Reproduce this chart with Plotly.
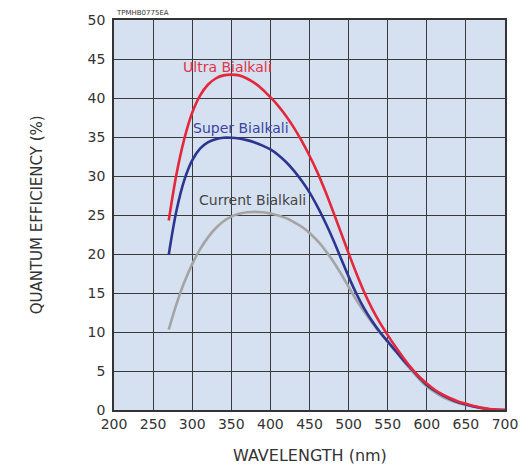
import plotly.graph_objects as go

# Wavelength (nm), every 10 nm from 270 to 700
wavelength = list(range(270, 701, 10))

# Quantum efficiency (%)
qe_ultra = [24.3, 30.3, 34.8, 38.1, 40.3, 41.7, 42.5, 42.9, 43.0, 42.9, 42.5, 41.9, 41.1, 40.1,
            39.0, 37.7, 36.2, 34.5, 32.6, 30.5, 28.1, 25.5, 22.8, 20.1,
            17.5, 15.1, 13.0, 11.2, 9.6, 8.1, 6.7, 5.4, 4.3, 3.4,
            2.6, 2.0, 1.5, 1.1, 0.8, 0.5, 0.3, 0.13, 0.04, 0.0]
qe_super = [19.9, 25.6, 29.5, 32.0, 33.5, 34.3, 34.7, 34.9, 34.9, 34.8, 34.6, 34.3, 33.9, 33.4,
            32.7, 31.8, 30.7, 29.4, 27.9, 26.1, 24.1, 21.9, 19.5, 17.1,
            14.9, 13.0, 11.4, 10.0, 8.8, 7.6, 6.4, 5.3, 4.2, 3.2,
            2.5, 1.9, 1.4, 1.0, 0.7, 0.45, 0.25, 0.1, 0.03, 0.0]
qe_current = [10.3, 13.6, 16.4, 18.7, 20.6, 22.1, 23.3, 24.2, 24.8, 25.15, 25.35, 25.4, 25.35, 25.2,
              24.95, 24.6, 24.1, 23.5, 22.7, 21.7, 20.5, 19.1, 17.5, 15.8,
              14.1, 12.6, 11.2, 9.9, 8.7, 7.5, 6.3, 5.1, 4.0, 3.0,
              2.3, 1.7, 1.25, 0.9, 0.65, 0.42, 0.23, 0.1, 0.03, 0.0]

series_names = ["Current Bialkali", "Super Bialkali", "Ultra Bialkali"]
x_ticks = [200, 250, 300, 350, 400, 450, 500, 550, 600, 650, 700]
y_ticks = [0, 5, 10, 15, 20, 25, 30, 35, 40, 45, 50]

FONT = "DejaVu Sans"

fig = go.Figure()
fig.add_trace(go.Scatter(x=wavelength, y=qe_current, mode="lines", name=series_names[0],
                         line=dict(color="#a4a4a4", width=2.6, shape="spline", smoothing=1.0)))
fig.add_trace(go.Scatter(x=wavelength, y=qe_super, mode="lines", name=series_names[1],
                         line=dict(color="#2c3590", width=2.6, shape="spline", smoothing=1.0)))
fig.add_trace(go.Scatter(x=wavelength, y=qe_ultra, mode="lines", name=series_names[2],
                         line=dict(color="#e4283c", width=2.6, shape="spline", smoothing=1.0)))

annotations = [
    dict(x=345, y=44.0, xref="x", yref="y", text="Ultra Bialkali", showarrow=False,
         font=dict(family=FONT, size=14, color="#e0344c")),
    dict(x=362, y=36.1, xref="x", yref="y", text="Super Bialkali", showarrow=False,
         font=dict(family=FONT, size=14, color="#3b44a2")),
    dict(x=377, y=26.9, xref="x", yref="y", text="Current Bialkali", showarrow=False,
         font=dict(family=FONT, size=14, color="#454545")),
    dict(x=0, y=1.0, xref="paper", yref="paper", text="TPMHB0775EA", showarrow=False,
         xanchor="left", yanchor="bottom", yshift=1,
         font=dict(family=FONT, size=7, color="#333333")),
    dict(x=0.5, y=-0.117, xref="paper", yref="paper", text="WAVELENGTH (nm)", showarrow=False,
         xanchor="center", yanchor="middle",
         font=dict(family=FONT, size=16, color="#333333")),
    dict(x=-0.196, y=0.5, xref="paper", yref="paper", text="QUANTUM EFFICIENCY (%)", showarrow=False,
         textangle=-90, xanchor="center", yanchor="middle",
         font=dict(family=FONT, size=15, color="#333333")),
]

fig.update_layout(
    width=530, height=465,
    margin=dict(l=114, r=24, t=17, b=55),
    paper_bgcolor="white",
    plot_bgcolor="#d5e1f0",
    showlegend=False,
    annotations=annotations,
    font=dict(family=FONT, size=14, color="#333333"),
)
fig.update_xaxes(range=[200, 700], tickvals=x_ticks, ticktext=[str(v) for v in x_ticks],
                 showgrid=True, gridcolor="#3a3a3a", gridwidth=1.2,
                 showline=True, linecolor="#333333", linewidth=1.6, mirror=True,
                 zeroline=False, ticks="", tickfont=dict(family=FONT, size=14, color="#333333"))
fig.update_yaxes(range=[0, 50], tickvals=y_ticks, ticktext=[str(v) for v in y_ticks],
                 showgrid=True, gridcolor="#3a3a3a", gridwidth=1.2,
                 showline=True, linecolor="#333333", linewidth=1.6, mirror=True,
                 zeroline=False, ticks="", ticklabelstandoff=4,
                 tickfont=dict(family=FONT, size=14, color="#333333"))

fig.write_html("out.html", config={"displayModeBar": False})

# remove default page margin so the figure sits at the window's top-left corner
with open("out.html", "r", encoding="utf-8") as f:
    html = f.read()
html = html.replace("<head>", "<head><style>html,body{margin:0;padding:0;overflow:hidden;}</style>", 1)
with open("out.html", "w", encoding="utf-8") as f:
    f.write(html)
